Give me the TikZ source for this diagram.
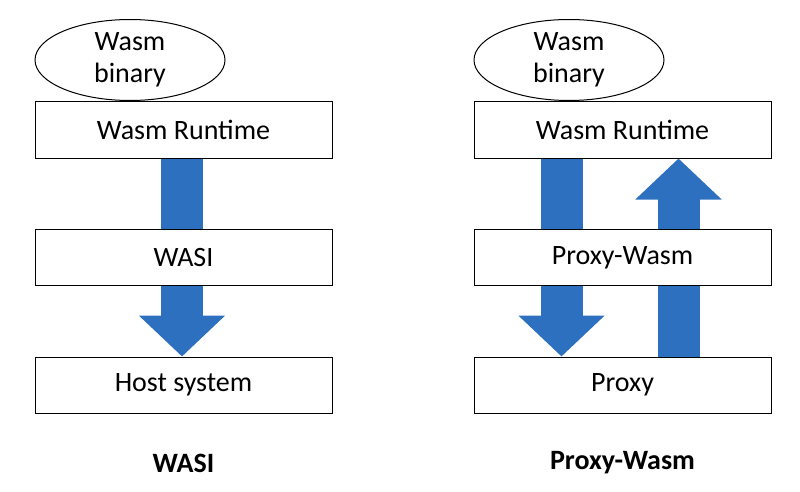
\documentclass[tikz,border=0pt]{standalone}
\usepackage{fontspec}
\setmainfont{Carlito}
\usetikzlibrary{arrows.meta,shapes.geometric,backgrounds}
\definecolor{wasmblue}{RGB}{46,112,192}

\begin{document}
\begin{tikzpicture}[x=1pt, y=-1pt,
  every node/.style={font=\fontsize{28}{32}\selectfont},
  layer/.style={draw, line width=1pt, fill=white, minimum width=297pt, minimum height=56pt, inner sep=0pt},
  module/.style={draw, ellipse, line width=1pt, fill=white, minimum width=190pt, minimum height=81pt, inner sep=0pt, align=center},
  caption/.style={font=\fontsize{28}{32}\selectfont\bfseries},
  flow/.style={wasmblue, line width=42pt, -{Triangle[width=84pt,length=41pt]}}]
\useasboundingbox (0,0) rectangle (800,492);

% WASI
\node[layer] (rtA) at (183.5, 130) {Wasm Runtime};
\node[module] (binA) at (130, 60) {Wasm\\binary};
\node[layer] (wasi) at (183.5, 257.5) {WASI};
\node[layer] (host) at (183.5, 385) {Host system};
\node[caption] (capA) at (183.5, 463) {WASI};

% Proxy-Wasm
\node[layer] (rtB) at (622.5, 130) {Wasm Runtime};
\node[module] (binB) at (569, 60) {Wasm\\binary};
\node[layer] (pw) at (622.5, 257.5) {Proxy-Wasm};
\node[layer] (proxy) at (622.5, 385) {Proxy};
\node[caption] (capB) at (622.5, 463) {Proxy-Wasm};

\begin{scope}[on background layer]
\draw[flow] ([xshift=-1.5pt]rtA.south) to ([xshift=-1.5pt]host.north);
\draw[flow] ([xshift=-61pt]rtB.south) to ([xshift=-61pt]proxy.north);
\draw[flow] ([xshift=56pt]proxy.north) to ([xshift=56pt]rtB.south);
\end{scope}
\end{tikzpicture}
\end{document}
